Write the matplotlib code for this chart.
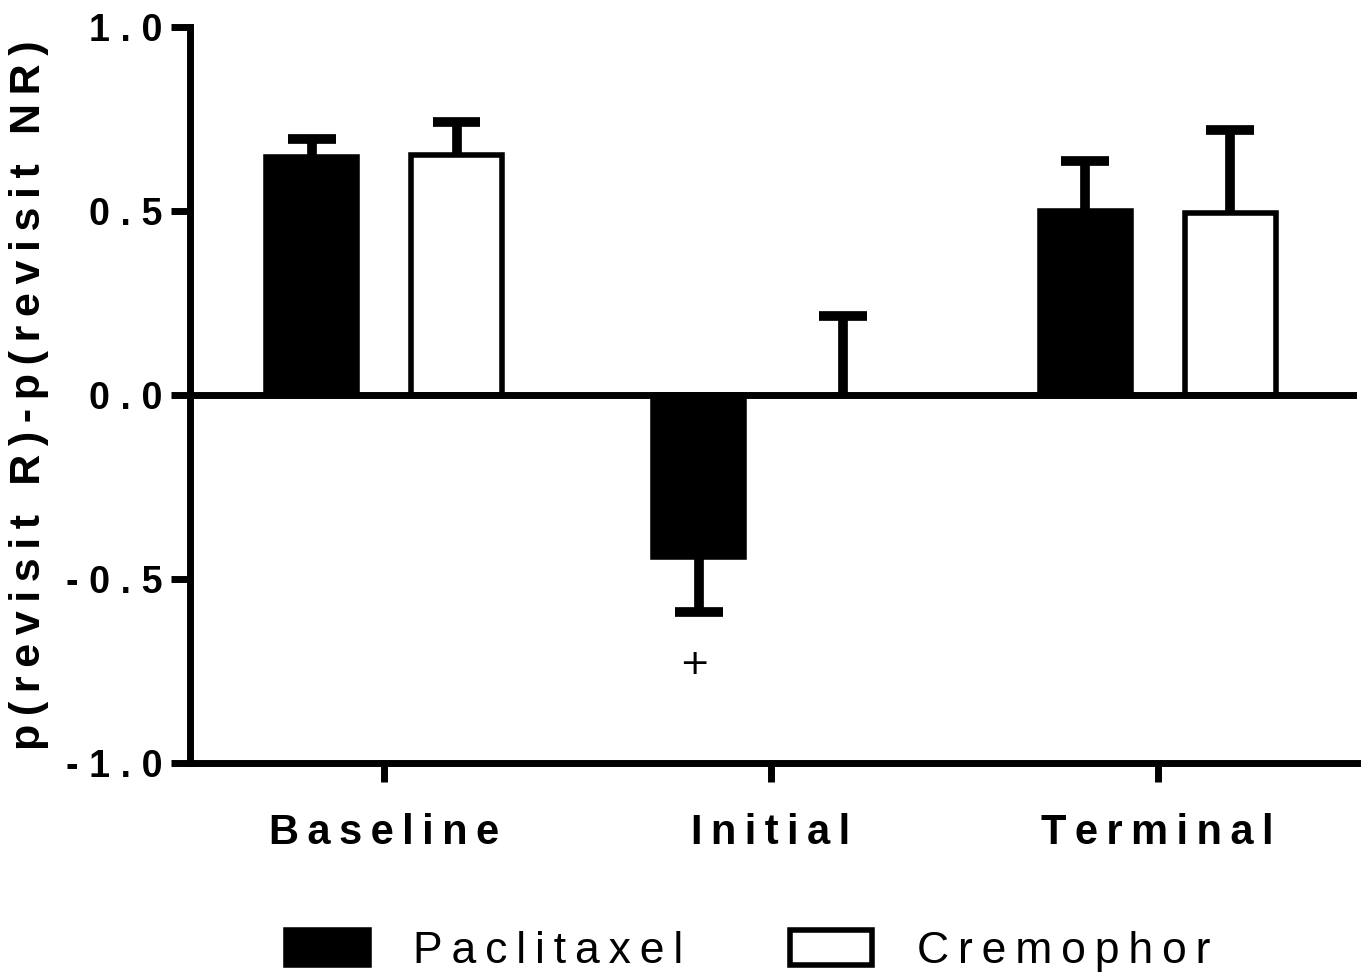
import matplotlib.pyplot as plt
from matplotlib.patches import Patch
import numpy as np

# Datos
categorias = ['Baseline', 'Initial', 'Terminal']
paclitaxel = [0.647, -0.44, 0.50]
paclitaxel_err = [0.05, 0.15, 0.135]
cremophor = [0.652, 0.0, 0.495]
cremophor_err = [0.09, 0.215, 0.225]
marca_sig = [None, '+', None]   # marca bajo la barra de Paclitaxel
y_ticks = [-1.0, -0.5, 0.0, 0.5, 1.0]

FAM = ['Liberation Sans', 'DejaVu Sans']
plt.rcParams['font.family'] = FAM


def espaciado(s, sep='\u2009'):
    return sep.join(s)


fig = plt.figure(figsize=(13.63, 9.73), dpi=100)
ax = fig.add_axes([190 / 1363, 1 - 763 / 973, (1357 - 190) / 1363, (763 - 27) / 973])

x = np.arange(len(categorias))
off = 0.187
w = 0.235
cap = 0.062


def barras_error(xs, vals, errs):
    # error de un solo lado: hacia arriba si el valor es positivo, hacia abajo si es negativo
    for xi, v, e in zip(xs, vals, errs):
        fin = v - e if v < 0 else v + e
        ax.vlines(xi, v, fin, color='black', linewidth=7, zorder=1)
        ax.hlines(fin, xi - cap, xi + cap, color='black', linewidth=7, zorder=1)


barras_error(x - off, paclitaxel, paclitaxel_err)
barras_error(x + off, cremophor, cremophor_err)
ax.bar(x - off, paclitaxel, w, color='black', edgecolor='black', linewidth=4, zorder=2)
ax.bar(x + off, cremophor, w, color='white', edgecolor='black',
       linewidth=[4 if v != 0 else 0 for v in cremophor], zorder=2)

for xi, v, e, m in zip(x, paclitaxel, paclitaxel_err, marca_sig):
    if m:
        ax.text(xi - off - 0.01, v - e - 0.14, m, ha='center', va='center',
                fontsize=26, family='DejaVu Sans')

ax.axhline(0, color='black', linewidth=5, zorder=3)

ax.set_xlim(-0.502, 2.515)
ax.set_ylim(-1.0, 1.0)
ax.set_yticks(y_ticks)
ax.set_yticklabels([espaciado(f'{t:.1f}', '\u2009\u200a') for t in y_ticks],
                   fontsize=27, fontweight='bold')
ax.set_xticks(x)
ax.set_xticklabels([espaciado(c) for c in categorias], fontsize=30, fontweight='bold')
ax.tick_params(axis='y', length=14, width=5, pad=6)
ax.tick_params(axis='x', length=14, width=5, pad=22)

for s in ['top', 'right']:
    ax.spines[s].set_visible(False)
for s in ['left', 'bottom']:
    ax.spines[s].set_linewidth(5)

ax.set_ylabel(espaciado('p(revisit R)-p(revisit NR)'), fontsize=31,
              fontweight='bold', labelpad=12)

handles = [Patch(facecolor='black', edgecolor='black', linewidth=4),
           Patch(facecolor='white', edgecolor='black', linewidth=4)]
fig.legend(handles, [espaciado('Paclitaxel'), espaciado('Cremophor')],
           loc='lower center', bbox_to_anchor=(0.549, -0.04), ncol=2, frameon=False,
           fontsize=32, handlelength=1.85, handleheight=0.85, handletextpad=1.0,
           columnspacing=2.4)

plt.savefig('out.png', dpi=100, facecolor='white')
plt.close()
